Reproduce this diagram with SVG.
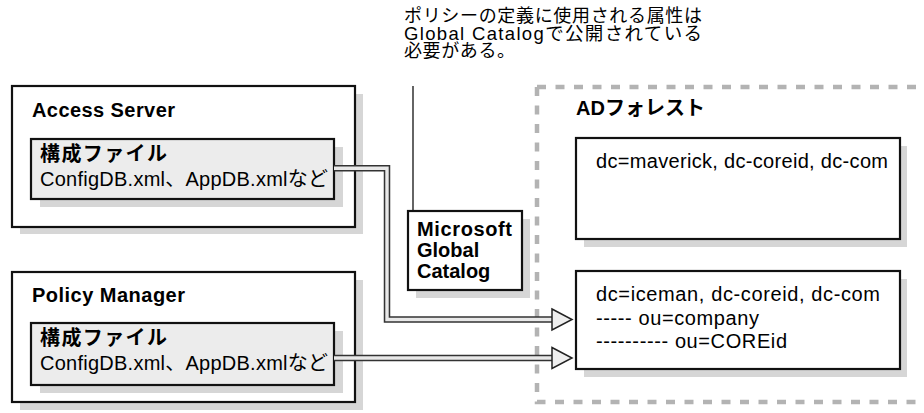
<svg xmlns="http://www.w3.org/2000/svg" width="924" height="413" viewBox="0 0 924 413">
<style>
  text { font-family: "Liberation Sans", "Noto Sans CJK JP", sans-serif; fill: #000; }
  .b { font-weight: bold; }
  .t20 { font-size: 20px; }
  .c1 { font-size: 18px; }
  .c2 { font-size: 18.5px; }
  .shadow { fill: #d6d6d6; }
  .box { fill: #fff; stroke: #111; stroke-width: 2.2; }
  .inner { fill: #ececec; stroke: #111; stroke-width: 2.2; }
  .dash { fill: none; stroke: #b3b3b3; stroke-width: 4.5; stroke-dasharray: 9 9.5; }
  .shaft-o { fill: none; stroke: #333; stroke-width: 6.5; stroke-linejoin: miter; }
  .shaft-i { fill: none; stroke: #e8e8e8; stroke-width: 3.4; stroke-linejoin: miter; }
  .head { fill: #eeeeee; stroke: #222; stroke-width: 1.5; stroke-linejoin: miter; }
</style>

<g id="ad-forest">
  <path class="dash" d="M537,87 H924"/>
  <path class="dash" d="M537,87 V402 H924"/>
  <text class="b t20" x="576" y="115" textLength="129" lengthAdjust="spacing">ADフォレスト</text>
</g>

<g id="ad-maverick">
  <rect class="shadow" x="584" y="146" width="323" height="101"/>
  <rect class="box" x="576" y="138" width="324" height="101"/>
  <text class="t20" x="596" y="168" textLength="292" lengthAdjust="spacing">dc=maverick, dc-coreid, dc-com</text>
</g>

<g id="ad-iceman">
  <rect class="shadow" x="584" y="279" width="323" height="98"/>
  <rect class="box" x="576" y="271" width="324" height="98"/>
  <text class="t20" x="596" y="301" textLength="284" lengthAdjust="spacing">dc=iceman, dc-coreid, dc-com</text>
  <text class="t20" x="596" y="325" textLength="163" lengthAdjust="spacing">----- ou=company</text>
  <text class="t20" x="596" y="348" textLength="191" lengthAdjust="spacing">---------- ou=COREid</text>
</g>

<g id="access-server">
  <rect class="shadow" x="20" y="94" width="343" height="140"/>
  <rect class="box" x="12" y="86" width="343" height="141"/>
  <text class="b t20" x="32" y="117" textLength="143" lengthAdjust="spacing">Access Server</text>
  <g id="access-config">
    <rect class="shadow" x="40" y="147" width="303" height="60"/>
    <rect class="inner" x="31" y="139" width="303" height="60"/>
    <text class="b t20" x="40" y="161" textLength="127" lengthAdjust="spacing">構成ファイル</text>
    <text class="t20" x="40" y="186" textLength="288" lengthAdjust="spacing">ConfigDB.xml、AppDB.xmlなど</text>
  </g>
</g>

<g id="policy-manager">
  <rect class="shadow" x="20" y="280" width="343" height="130"/>
  <rect class="box" x="12" y="272" width="343" height="130"/>
  <text class="b t20" x="32" y="302" textLength="153" lengthAdjust="spacing">Policy Manager</text>
  <g id="policy-config">
    <rect class="shadow" x="40" y="331" width="303" height="62"/>
    <rect class="inner" x="31" y="323" width="303" height="62"/>
    <text class="b t20" x="40" y="345" textLength="127" lengthAdjust="spacing">構成ファイル</text>
    <text class="t20" x="40" y="370" textLength="288" lengthAdjust="spacing">ConfigDB.xml、AppDB.xmlなど</text>
  </g>
</g>

<g id="ms-catalog">
  <rect class="shadow" x="416" y="219" width="114" height="79"/>
  <rect class="box" x="408" y="211" width="114" height="79"/>
  <text class="b t20" x="417" y="236" textLength="95" lengthAdjust="spacing">Microsoft</text>
  <text class="b t20" x="417" y="257">Global</text>
  <text class="b t20" x="417" y="278">Catalog</text>
</g>

<g id="callout">
  <text class="c1" x="404" y="21.5" textLength="298" lengthAdjust="spacing">ポリシーの定義に使用される属性は</text>
  <text class="c2" x="404" y="39.5" textLength="298" lengthAdjust="spacing">Global Catalogで公開されている</text>
  <text class="c1" x="404" y="56.5" textLength="111" lengthAdjust="spacing">必要がある。</text>
  <line x1="413" y1="86" x2="413" y2="212" stroke="#111" stroke-width="1.3"/>
</g>

<g id="connectors">
  <path class="shaft-o" d="M334,168.3 H387 V319.5 H553"/>
  <path class="shaft-i" d="M334,168.3 H387 V319.5 H553"/>
  <polygon class="head" points="552,309 572,319.5 552,330"/>
  <path class="shaft-o" d="M334,358 H553"/>
  <path class="shaft-i" d="M334,358 H553"/>
  <polygon class="head" points="552,347.5 572,358 552,368.5"/>
</g>
</svg>
